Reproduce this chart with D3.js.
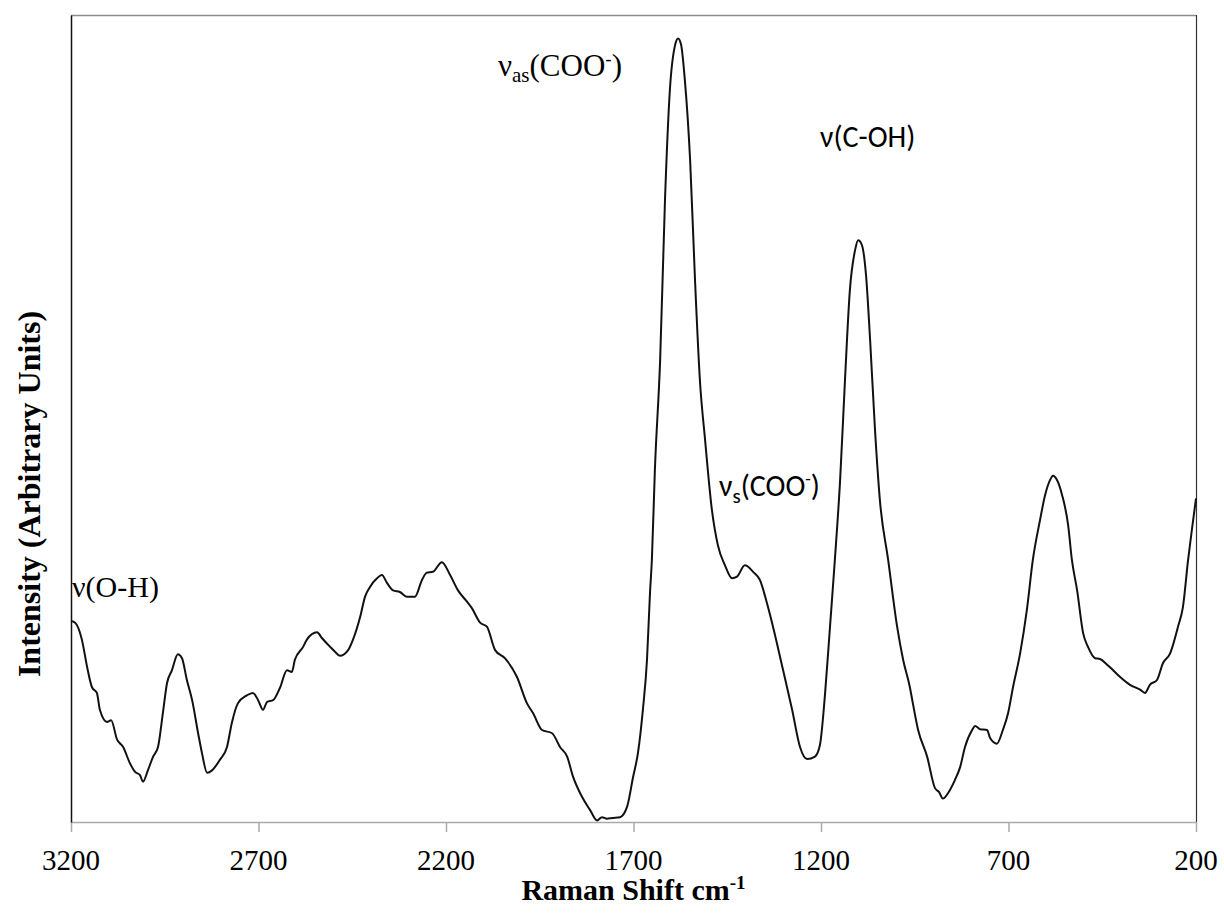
<html>
<head>
  <title>Raman spectrum</title>
  <script type="text/javascript" src="https://cdn.jsdelivr.net/npm/d3@7"></script>
  <style type="text/css">
    body { margin: 0; background: #fff; }
    .spectrum { fill: none; stroke: #111; stroke-width: 2; }
  </style>
</head>
<body>
<script>
  // Width and height
  const w = 1224;
  const h = 914;
  const margin = {top: 15, right: 28, bottom: 92, left: 71};
  const serif = '"Liberation Serif", "Times New Roman", serif';
  const sans = 'Calibri, Carlito, "Open Sans", sans-serif';

  // Raman shift (cm-1)
  const shift = [3200, 3189, 3171, 3157, 3144, 3131, 3123, 3104, 3093, 3077, 3061, 3043, 3029, 3016, 3008,
    2995, 2981, 2968, 2955, 2944, 2931, 2915, 2904, 2891, 2877, 2861, 2851, 2837, 2824, 2803, 2784, 2771,
    2755, 2731, 2715, 2701, 2688, 2677, 2661, 2643, 2624, 2611, 2603, 2581, 2571, 2544, 2531, 2509, 2496,
    2483, 2461, 2448, 2429, 2416, 2403, 2384, 2371, 2357, 2341, 2323, 2304, 2283, 2264, 2251, 2235, 2211,
    2189, 2168, 2144, 2131, 2109, 2091, 2069, 2043, 2011, 1984, 1968, 1944, 1917, 1896, 1877, 1861, 1837,
    1816, 1797, 1784, 1771, 1757, 1736, 1717, 1701, 1688, 1675, 1664, 1656, 1651, 1643, 1629, 1616, 1603,
    1589, 1581, 1573, 1563, 1549, 1536, 1523, 1509, 1491, 1475, 1456, 1437, 1424, 1403, 1381, 1363, 1344,
    1328, 1301, 1277, 1256, 1237, 1216, 1203, 1189, 1176, 1163, 1149, 1136, 1123, 1109, 1101, 1091, 1080,
    1069, 1056, 1043, 1021, 997, 981, 963, 955, 941, 917, 896, 885, 875, 861, 843, 829, 816, 797, 789, 776,
    757, 749, 731, 715, 701, 688, 669, 651, 635, 616, 603, 589, 581, 571, 557, 541, 531, 517, 501, 488, 469,
    456, 437, 421, 403, 376, 349, 336, 323, 304, 288, 269, 248, 235, 221, 211, 200];

  // Intensity (arbitrary units, 0-100)
  const intensity = [24.9, 24.7, 22.6, 19.2, 16.7, 16.0, 13.9, 12.4, 12.6, 10.2, 9.3, 7.3, 6.2, 5.8, 5.0,
    6.4, 8.1, 9.3, 13.5, 17.2, 18.8, 20.8, 20.3, 17.6, 15.1, 11.0, 8.6, 6.1, 6.4, 7.7, 9.3, 12.3,
    14.7, 15.7, 16.0, 15.1, 13.9, 14.9, 15.1, 16.6, 18.8, 18.6, 20.1, 21.7, 22.6, 23.5, 22.8, 21.7, 21.1,
    20.6, 21.3, 22.6, 25.4, 27.9, 29.1, 30.2, 30.6, 29.6, 28.7, 28.5, 27.9, 27.9, 30.0, 30.9, 31.0, 32.2,
    30.6, 28.7, 27.3, 26.5, 24.7, 24.2, 21.3, 20.3, 18.0, 14.7, 13.5, 11.4, 11.0, 9.3, 8.1, 5.6, 3.1,
    1.5, 0.2, 0.6, 0.4, 0.5, 0.6, 1.9, 5.6, 8.6, 13.9, 20.1, 28.4, 32.5, 43.6, 57.2, 77.1, 90.7,
    96.3, 97.1, 96.3, 91.9, 82.0, 67.2, 54.8, 47.3, 38.7, 34.3, 31.8, 30.2, 30.4, 31.8, 31.0, 30.0, 27.1,
    24.2, 18.8, 13.9, 9.3, 7.8, 8.1, 9.5, 16.0, 24.2, 32.5, 42.4, 54.8, 65.9, 70.9, 72.1, 71.5, 67.8,
    59.7, 48.6, 39.9, 32.5, 24.2, 20.1, 16.7, 14.7, 11.4, 8.1, 4.2, 3.7, 2.9, 3.6, 5.2, 6.8, 9.3, 11.4, 11.9, 11.5,
    11.4, 10.4, 9.7, 11.4, 13.5, 16.7, 20.9, 26.3, 32.5, 37.4, 40.4, 42.4, 42.9, 42.4, 40.5, 36.8, 32.5, 28.7, 23.4, 21.7, 20.3,
    20.2, 19.5, 18.8, 18.0, 17.0, 16.4, 16.0, 17.0, 17.6, 19.7, 20.9, 24.2, 26.6, 32.5, 36.2, 40.1];

  // Tick labels
  const xTicks = [3200, 2700, 2200, 1700, 1200, 700, 200];

  const dataset = shift.map(function(s, i) { return {shift: s, value: intensity[i]}; });

  // Create scale functions
  const xScale = d3.scaleLinear()
    .domain([3200, 200])
    .range([margin.left, w - margin.right]);

  const yScale = d3.scaleLinear()
    .domain([0, 100])
    .range([h - margin.bottom, margin.top]);

  // Create SVG element
  const svg = d3.select("body")
    .append("svg")
    .attr("width", w)
    .attr("height", h);

  svg.append("rect").attr("width", w).attr("height", h).attr("fill", "#fff");

  // Frame: top and right edges
  svg.append("line")
    .attr("x1", margin.left).attr("x2", w - margin.right)
    .attr("y1", margin.top + 0.5).attr("y2", margin.top + 0.5)
    .attr("stroke", "#8c8c8c").attr("stroke-width", 1.5);
  svg.append("line")
    .attr("x1", w - margin.right + 0.5).attr("x2", w - margin.right + 0.5)
    .attr("y1", margin.top).attr("y2", h - margin.bottom)
    .attr("stroke", "#333").attr("stroke-width", 1.2);

  // X axis: line and tick marks from d3, labels drawn below
  const xAxis = d3.axisBottom(xScale)
    .tickValues(xTicks)
    .tickFormat("")
    .tickSize(10)
    .tickSizeOuter(0);

  const gx = svg.append("g")
    .attr("transform", "translate(0," + (h - margin.bottom) + ")")
    .call(xAxis);
  gx.select(".domain").attr("stroke", "#aaa").attr("stroke-width", 1.5);
  gx.selectAll(".tick line").attr("stroke", "#aaa").attr("stroke-width", 1.5);
  gx.selectAll(".tick text").remove();

  svg.append("g")
    .selectAll("text")
    .data(xTicks)
    .join("text")
    .attr("x", function(d) { return xScale(d); })
    .attr("y", 870)
    .attr("text-anchor", "middle")
    .attr("fill", "#000")
    .style("font-family", serif)
    .style("font-size", "29px")
    .text(function(d) { return d; });

  // Y axis (no ticks)
  const gy = svg.append("g")
    .attr("transform", "translate(" + margin.left + ",0)")
    .call(d3.axisLeft(yScale).tickValues([]).tickSizeOuter(0));
  gy.select(".domain").attr("stroke", "#111").attr("stroke-width", 1.5);

  // Spectrum line
  const line = d3.line()
    .x(function(d) { return xScale(d.shift); })
    .y(function(d) { return yScale(d.value); })
    .curve(d3.curveMonotoneX);

  svg.append("path")
    .datum(dataset)
    .attr("class", "spectrum")
    .attr("d", line);

  // Axis titles
  const xt = svg.append("text")
    .attr("x", (margin.left + w - margin.right) / 2)
    .attr("y", 900)
    .attr("text-anchor", "middle")
    .style("font-family", serif)
    .style("font-size", "30px")
    .style("font-weight", "bold")
    .text("Raman Shift cm");
  xt.append("tspan").style("font-size", "19px").attr("dy", -11).text("-1");

  svg.append("text")
    .attr("transform", "translate(40,494) rotate(-90)")
    .attr("text-anchor", "middle")
    .style("font-family", serif)
    .style("font-size", "32px")
    .style("font-weight", "bold")
    .text("Intensity (Arbitrary Units)");

  // Band labels
  svg.append("text")
    .attr("x", 72).attr("y", 597)
    .style("font-family", serif)
    .style("font-size", "30px")
    .text("ν(O-H)");

  const as = svg.append("text")
    .attr("x", 498).attr("y", 76)
    .style("font-family", serif)
    .style("font-size", "31px");
  as.append("tspan").text("ν");
  as.append("tspan").style("font-size", "21px").attr("dy", 6).text("as");
  as.append("tspan").attr("dy", -6).text("(COO");
  as.append("tspan").style("font-size", "19px").attr("dy", -11).text("-");
  as.append("tspan").attr("dy", 11).text(")");

  svg.append("text")
    .attr("x", 820).attr("y", 147)
    .style("font-family", sans)
    .style("font-size", "30px")
    .text("ν(C-OH)");

  const sy = svg.append("text")
    .attr("x", 719).attr("y", 496)
    .style("font-family", sans)
    .style("font-size", "30px");
  sy.append("tspan").text("ν");
  sy.append("tspan").style("font-size", "21px").attr("dy", 7).text("s");
  sy.append("tspan").attr("dy", -7).text("(COO");
  sy.append("tspan").style("font-size", "18px").attr("dy", -11).text("-");
  sy.append("tspan").attr("dy", 11).text(")");
</script>
</body>
</html>
